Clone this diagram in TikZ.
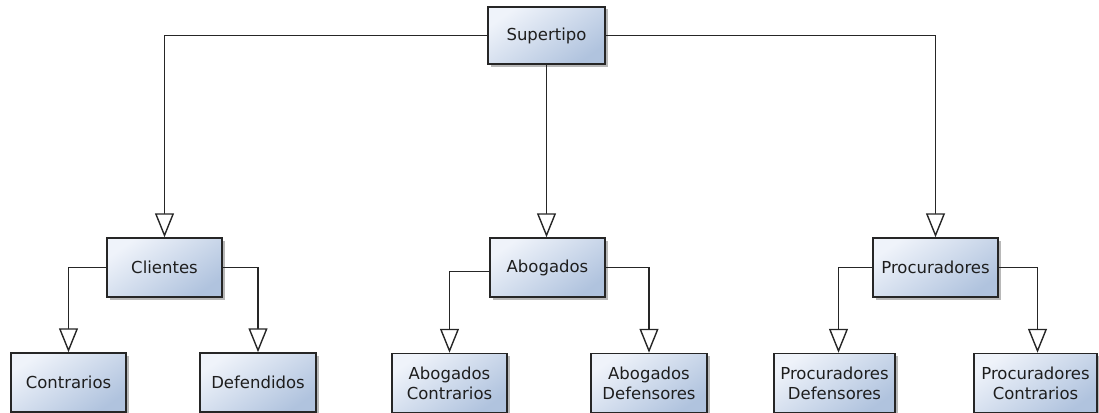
\documentclass[tikz,border=0pt]{standalone}
\usepackage{fontspec}
\setmainfont{DejaVu Sans}
\usetikzlibrary{arrows.meta,shadows}
\definecolor{boxlight}{HTML}{EFF3FA}
\definecolor{boxdark}{HTML}{B0C3DE}
\definecolor{edge}{HTML}{262626}
\definecolor{ink}{HTML}{1E1E1E}
\tikzset{
  entity/.style={draw=edge, line width=1.5pt, rectangle, inner sep=0pt,
    minimum height=59pt, align=center, text=ink,
    font=\fontsize{16.5}{20}\selectfont,
    shading=axis, top color=boxlight, bottom color=boxdark, shading angle=35,
    drop shadow={shadow xshift=2.5pt, shadow yshift=-2.5pt, opacity=0.28, fill=black}},
  isa/.style={draw=edge, line width=1.4pt,
    -{Triangle[open, length=24pt, width=19pt, fill=white]}},
}
\begin{document}
\begin{tikzpicture}[x=1pt, y=-1pt]
\useasboundingbox (0,0) rectangle (1099,412);
% top-level supertype
\node[entity, minimum width=117pt, minimum height=57pt] (sup) at (546.5,35.5) {Supertipo};
% second level
\node[entity, minimum width=115pt] (cli) at (164.5,267.5) {Clientes};
\node[entity, minimum width=115pt] (abo) at (547.5,267.5) {Abogados};
\node[entity, minimum width=125pt] (pro) at (935.5,267.5) {Procuradores};
% third level
\node[entity, minimum width=115pt] (con) at (68.5,382.5) {Contrarios};
\node[entity, minimum width=116pt] (def) at (258,382.5) {Defendidos};
\node[entity, minimum width=115pt] (ac) at (449.5,383) {Abogados\\Contrarios};
\node[entity, minimum width=116pt] (ad) at (649,383) {Abogados\\Defensores};
\node[entity, minimum width=121pt] (pd) at (834.5,383) {Procuradores\\Defensores};
\node[entity, minimum width=123pt] (pc) at (1035.5,383) {Procuradores\\Contrarios};
% generalisation links
\draw[isa] (sup.west) -| (cli.north);
\draw[isa] (sup.south) -- (sup.south |- abo.north);
\draw[isa] (sup.east) -| (pro.north);
\draw[isa] (cli.west) -| (con.north);
\draw[isa] (cli.east) -| (def.north);
\draw[isa] ([yshift=-4pt]abo.west) -| (ac.north);
\draw[isa] (abo.east) -| (ad.north);
\draw[isa] (pro.west) -| ([xshift=4pt]pd.north);
\draw[isa] (pro.east) -| ([xshift=2pt]pc.north);
\end{tikzpicture}
\end{document}
